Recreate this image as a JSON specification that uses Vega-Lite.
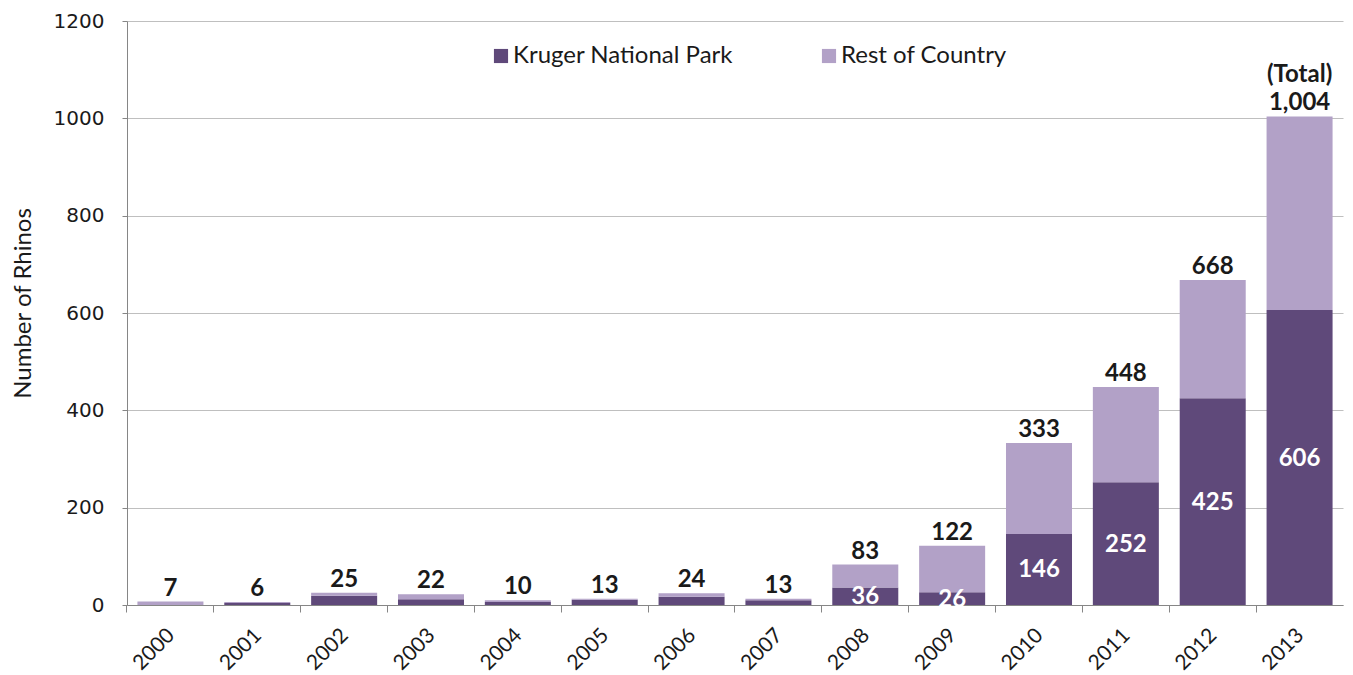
{
  "$schema": "https://vega.github.io/schema/vega-lite/v6.json",
  "width": 1216,
  "height": 584,
  "autosize": {"type": "none"},
  "padding": {"left": 127, "top": 21, "right": 10, "bottom": 70},
  "background": "white",
  "config": {
    "view": {"stroke": null},
    "font": "Lato"
  },
  "data": {
    "values": [
      {"year": "2000", "kruger": 0, "rest": 7, "total": 7, "note": ""},
      {"year": "2001", "kruger": 4, "rest": 2, "total": 6, "note": ""},
      {"year": "2002", "kruger": 19, "rest": 6, "total": 25, "note": ""},
      {"year": "2003", "kruger": 12, "rest": 10, "total": 22, "note": ""},
      {"year": "2004", "kruger": 6, "rest": 4, "total": 10, "note": ""},
      {"year": "2005", "kruger": 11, "rest": 2, "total": 13, "note": ""},
      {"year": "2006", "kruger": 17, "rest": 7, "total": 24, "note": ""},
      {"year": "2007", "kruger": 10, "rest": 3, "total": 13, "note": ""},
      {"year": "2008", "kruger": 36, "rest": 47, "total": 83, "note": ""},
      {"year": "2009", "kruger": 26, "rest": 96, "total": 122, "note": ""},
      {"year": "2010", "kruger": 146, "rest": 187, "total": 333, "note": ""},
      {"year": "2011", "kruger": 252, "rest": 196, "total": 448, "note": ""},
      {"year": "2012", "kruger": 425, "rest": 243, "total": 668, "note": ""},
      {"year": "2013", "kruger": 606, "rest": 398, "total": 1004, "note": "(Total)"}
    ]
  },
  "encoding": {
    "x": {
      "field": "year",
      "type": "ordinal",
      "scale": {"paddingInner": 0.24, "paddingOuter": 0.12},
      "axis": {
        "title": null,
        "bandPosition": -0.158,
        "labelOffset": 1,
        "labelAngle": -45,
        "labelAlign": "right",
        "labelBaseline": "middle",
        "labelFontSize": 21,
        "labelColor": "#1a1a1a",
        "labelPadding": 20,
        "domainColor": "#868686",
        "tickColor": "#868686",
        "tickSize": 7
      }
    }
  },
  "layer": [
    {
      "transform": [{"fold": ["kruger", "rest"], "as": ["series", "value"]}],
      "mark": {"type": "bar"},
      "encoding": {
        "y": {
          "field": "value",
          "type": "quantitative",
          "stack": "zero",
          "scale": {"domain": [0, 1200]},
          "axis": {
            "title": "Number of Rhinos",
            "titleFont": "Lato",
            "titleFontSize": 24,
            "titleFontWeight": "normal",
            "titleColor": "#1a1a1a",
            "titlePadding": 18,
            "titleY": 282,
            "values": [0, 200, 400, 600, 800, 1000, 1200],
            "format": "d",
            "labelFont": "DejaVu Sans",
            "labelFontSize": 20,
            "labelColor": "#1a1a1a",
            "labelPadding": 18,
            "tickSize": 5,
            "tickColor": "#868686",
            "domainColor": "#868686",
            "gridColor": "#BFBFBF",
            "gridWidth": 1
          }
        },
        "color": {
          "field": "series",
          "type": "nominal",
          "scale": {
            "domain": ["kruger", "rest"],
            "range": ["#5F497A", "#B2A1C7"]
          },
          "legend": {
            "title": null,
            "orient": "none",
            "legendX": 362,
            "legendY": 23,
            "direction": "horizontal",
            "symbolType": "square",
            "symbolSize": 200,
            "symbolStrokeWidth": 0,
            "labelFontSize": 24,
            "labelColor": "#1a1a1a",
            "labelOffset": 0,
            "labelExpr": "datum.label == 'kruger' ? 'Kruger National Park' : 'Rest of Country'",
            "columnPadding": 84,
            "labelLimit": 400
          }
        },
        "order": {"field": "series"}
      }
    },
    {
      "mark": {"type": "text", "baseline": "bottom", "dy": -1, "fontSize": 24, "fontWeight": "bold", "color": "#1a1a1a"},
      "encoding": {
        "y": {"field": "total", "type": "quantitative"},
        "text": {"field": "total", "type": "quantitative", "format": ","}
      }
    },
    {
      "transform": [{"filter": "datum.note != ''"}],
      "mark": {"type": "text", "baseline": "bottom", "dy": -29, "fontSize": 24, "fontWeight": "bold", "color": "#1a1a1a"},
      "encoding": {
        "y": {"field": "total", "type": "quantitative"},
        "text": {"field": "note"}
      }
    },
    {
      "transform": [{"filter": "datum.kruger >= 25"}, {"calculate": "datum.kruger / 2", "as": "kmid"}],
      "mark": {"type": "text", "baseline": "middle", "dy": 1, "fontSize": 24, "fontWeight": "bold", "color": "white"},
      "encoding": {
        "y": {"field": "kmid", "type": "quantitative"},
        "text": {"field": "kruger", "type": "quantitative"}
      }
    }
  ]
}
